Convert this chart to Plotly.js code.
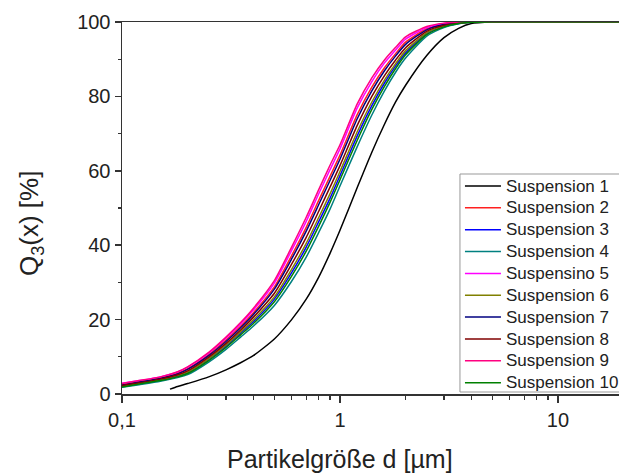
<!DOCTYPE html>
<html>
<head>
<meta charset="utf-8">
<script src="https://cdn.plot.ly/plotly-3.0.1.min.js"></script>
<style>html,body{margin:0;padding:0;background:#fff;}#chart{width:619px;height:475px;}</style>
</head>
<body>
<div id="chart"></div>
<script>
// Particle size grid [µm]
const xGrid = [0.1,0.12,0.15,0.18,0.2,0.25,0.3,0.35,0.4,0.5,0.6,0.7,0.8,0.9,1,1.2,1.4,1.6,1.8,2,2.5,3,3.5,4,5,6,8,10,20];
const xSusp1 = [0.166,0.18,0.2,0.25,0.3,0.35,0.4,0.5,0.6,0.7,0.8,0.9,1,1.2,1.4,1.6,1.8,2,2.5,3,3.5,4,5,6,8,10,20];

// Q3(x) [%]
const susp1  = [1.3,2.0,2.8,4.6,6.5,8.4,10.3,14.8,20,25.5,31.5,37.8,44,55.5,65,72.5,78.5,83,91,95.8,98.3,99.6,100,100,100,100,100];
const susp2  = [2.5,3.3,4.3,5.6,6.8,10.6,14.5,18.2,21.8,28.8,37.2,44.8,52.1,58.5,64.2,75.1,82.5,87.7,91.5,94.6,98.2,99.4,99.9,100,100,100,100,100,100];
const susp3  = [2.0,2.8,3.7,4.8,5.7,9.3,12.8,16.3,19.4,25.5,32.6,39.5,46.4,52.6,58.7,69.4,77.5,83.6,88.2,91.7,96.9,98.8,99.6,99.9,100,100,100,100,100];
const susp4  = [1.8,2.5,3.4,4.4,5.2,8.6,12.0,15.3,18.2,23.8,30.3,36.8,43.5,49.7,55.9,66.5,75.0,81.5,86.5,90.3,96.2,98.5,99.5,99.9,100,100,100,100,100];
const susp5  = [2.9,3.6,4.6,5.9,7.2,11.0,15.0,18.8,22.5,29.8,38.6,46.4,53.9,60.3,65.9,76.9,84.0,89.0,92.5,95.4,98.5,99.6,100,100,100,100,100,100,100];
const susp6  = [2.1,2.9,3.8,5.0,5.9,9.5,13.2,16.7,19.9,26.1,33.5,40.5,47.5,53.8,59.8,70.5,78.5,84.4,88.8,92.3,97.1,98.9,99.7,99.9,100,100,100,100,100];
const susp7  = [2.4,3.2,4.2,5.4,6.6,10.3,14.1,17.8,21.3,28.2,36.3,43.8,51.0,57.4,63.1,74.0,81.5,86.9,90.9,94.0,97.9,99.3,99.8,100,100,100,100,100,100];
const susp8  = [2.3,3.0,4.0,5.2,6.2,9.9,13.6,17.2,20.6,27.1,34.9,42.1,49.2,55.6,61.4,72.2,80.0,85.6,89.8,93.1,97.5,99.1,99.7,100,100,100,100,100,100];
const susp9  = [2.8,3.6,4.6,6.0,7.3,11.2,15.3,19.2,23.0,30.5,39.5,47.5,55.0,61.5,67.0,78.0,85.0,89.8,93.2,96.0,98.8,99.7,100,100,100,100,100,100,100];
const susp10 = [1.9,2.7,3.6,4.6,5.5,9.0,12.5,15.9,18.9,24.8,31.7,38.4,45.2,51.5,57.6,68.2,76.5,82.7,87.5,91.2,96.6,98.7,99.6,99.9,100,100,100,100,100];

const names = ["Suspension 1","Suspension 2","Suspension 3","Suspension 4","Suspensino 5","Suspension 6","Suspension 7","Suspension 8","Suspension 9","Suspension 10"];
const colors = ["#000000","#ff2020","#0000ff","#008080","#ff00ff","#808000","#000080","#800000","#ff0080","#008000"];
const ySeries = [susp1,susp2,susp3,susp4,susp5,susp6,susp7,susp8,susp9,susp10];
const xSeries = [xSusp1,xGrid,xGrid,xGrid,xGrid,xGrid,xGrid,xGrid,xGrid,xGrid];

const xTickVals = [0.1,1,10];
const xTickText = ["0,1","1","10"];
const xMinorVals = [0.2,0.3,0.4,0.5,0.6,0.7,0.8,0.9,2,3,4,5,6,7,8,9,20];

const traces = ySeries.map((y,i)=>({
  type:"scatter", mode:"lines", x:xSeries[i], y:y,
  name:'<span style="font-size:17px">' + names[i] + '</span>',
  line:{color:colors[i], width:1.5, shape:"spline", smoothing:0.6}
}));

const font = "Arial, 'Liberation Sans', sans-serif";
const layout = {
  width:619, height:475,
  margin:{l:122, r:0, t:22, b:81, autoexpand:false},
  paper_bgcolor:"#fff", plot_bgcolor:"#fff",
  showlegend:true,
  font:{family:font, color:"#222"},
  xaxis:{
    type:"log", range:[-1, 1.28], showgrid:false, zeroline:false,
    showline:true, linecolor:"#333", linewidth:1.5, mirror:true,
    tickmode:"array", tickvals:xTickVals, ticktext:xTickText,
    ticks:"outside", ticklen:7, tickwidth:1.5, tickcolor:"#333",
    tickfont:{size:20, family:font, color:"#222"},
    minor:{tickmode:"array", tickvals:xMinorVals, ticks:"outside", ticklen:4, tickwidth:1.2, tickcolor:"#333", showgrid:false}
  },
  yaxis:{
    range:[0,100], showgrid:false, zeroline:false,
    showline:true, linecolor:"#333", linewidth:1.5,
    tickmode:"linear", tick0:0, dtick:20,
    ticks:"outside", ticklen:6, tickwidth:1.5, tickcolor:"#333",
    tickfont:{size:20, family:font, color:"#222"},
    minor:{dtick:10, ticks:"outside", ticklen:3, tickwidth:1.2, tickcolor:"#333", showgrid:false}
  },
  legend:{
    x:0.680, y:0.602, xanchor:"left", yanchor:"top",
    bgcolor:"rgba(0,0,0,0)", borderwidth:0, itemwidth:36,
    font:{size:14.5, family:font, color:"#222"},
    tracegroupgap:0
  },
  shapes:[
    {type:"rect", xref:"paper", yref:"paper", layer:"above",
     x0:0.680, x1:1.2, y0:(394-392)/372, y1:(394-174)/372,
     fillcolor:"#fff", line:{color:"#999", width:1}}
  ],
  annotations:[
    {xref:"paper", yref:"paper", x:0.4386, y:-0.1747, xanchor:"center", yanchor:"middle",
     text:"Partikelgröße d [µm]", showarrow:false, font:{size:25, family:font, color:"#222"}},
    {xref:"paper", yref:"paper", x:-0.183, y:0.457, xanchor:"center", yanchor:"middle", textangle:-90,
     text:"Q<sub>3</sub>(x) [%]", showarrow:false, font:{size:26, family:font, color:"#222"}}
  ]
};

Plotly.newPlot("chart", traces, layout, {displayModeBar:false, staticPlot:true});
</script>
</body>
</html>
